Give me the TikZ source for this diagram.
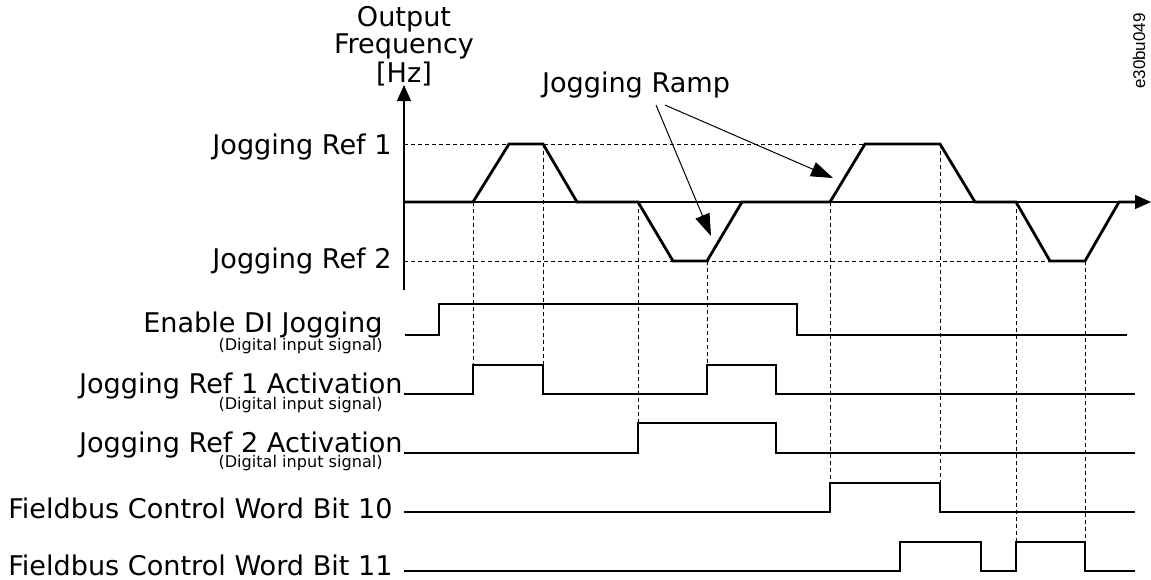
\documentclass[tikz,border=0pt]{standalone}
\usepackage{fontspec}
\setmainfont{DejaVu Sans}
\newfontfamily\idfont{Liberation Sans}
\usetikzlibrary{arrows.meta}

\begin{document}
\begin{tikzpicture}[x=0.5pt,y=-0.5pt,
  sig/.style={line width=1.4pt,line join=miter},
  guide/.style={line width=0.5pt,dash pattern=on 2pt off 1.5pt},
  axis/.style={line width=0.6pt,-{Triangle[length=8pt,width=7pt]}},
  ramparrow/.style={line width=0.5pt,-{Triangle[length=11pt,width=7.5pt]}},
  lbl/.style={inner sep=0pt,font=\fontsize{13.55}{12.5}\selectfont},
  sub/.style={inner sep=0pt,font=\fontsize{8.05}{9}\selectfont}]
\useasboundingbox (0,0) rectangle (1151,579);
\draw[guide](404,144)--(865,144);
\draw[guide](404,261)--(1050,261);
\draw[guide](473,202)--(473,365) (543,144)--(543,365)
(638,202)--(638,423) (707,261)--(707,365)
(830,202)--(830,483) (940,144)--(940,483)
(1016,202)--(1016,542) (1085,261)--(1085,542);
\draw[axis](404,290)--(404,85);
\draw[axis](404,202)--(1151,202);
\draw[sig](404,202)--(473,202)--(509,144)--(543,144)--(577,202)--(638,202)--(673,261)--(707,261)
--(742,202)--(830,202)--(865,144)--(940,144)--(975,202)--(1016,202)--(1050,261)--(1085,261)
--(1119,202)--(1137,202);
\draw[sig](405,335)--(439,335)--(439,304)--(797,304)--(797,335)--(1127,335);
\draw[sig](404,394)--(473,394)--(473,365)--(543,365)--(543,394)--(707,394)--(707,365)
--(776,365)--(776,394)--(1135,394);
\draw[sig](404,453)--(638,453)--(638,423)--(776,423)--(776,453)--(1135,453);
\draw[sig](404,512)--(830,512)--(830,483)--(940,483)--(940,512)--(1135,512);
\draw[sig](404,571)--(900,571)--(900,542)--(981,542)--(981,571)--(1016,571)--(1016,542)
--(1085,542)--(1085,571)--(1135,571);
\node[lbl,align=center,anchor=south](freq)at(404,86){Output\\Frequency\\{}[Hz]};
\node[lbl,anchor=base east](ref1)at(392,154){Jogging Ref 1};
\node[lbl,anchor=base east](ref2)at(392,268){Jogging Ref 2};
\node[lbl,anchor=base](ramp)at(636,92){Jogging Ramp};
\node[lbl,anchor=base east](en)at(383,332){Enable DI Jogging};
\node[sub,anchor=base east](enx)at(383,350){(Digital input signal)};
\node[lbl,anchor=base east](act1)at(403,393){Jogging Ref 1 Activation};
\node[sub,anchor=base east](act1x)at(383,409){(Digital input signal)};
\node[lbl,anchor=base east](act2)at(403,452){Jogging Ref 2 Activation};
\node[sub,anchor=base east](act2x)at(383,467){(Digital input signal)};
\node[lbl,anchor=base east](fb10)at(393,518){Fieldbus Control Word Bit 10};
\node[lbl,anchor=base east](fb11)at(393,575){Fieldbus Control Word Bit 11};
\node[rotate=90,inner sep=0pt,font=\idfont\fontsize{8.5}{10}\selectfont](code)at(1139,51){e30bu049};
\coordinate (tipa) at (711,236);
\coordinate (tipb) at (833,178);
\draw[ramparrow]([xshift=10pt,yshift=-3.5pt]ramp.south)--(tipa);
\draw[ramparrow]([xshift=14.5pt,yshift=-3.5pt]ramp.south)--(tipb);
\end{tikzpicture}
\end{document}
